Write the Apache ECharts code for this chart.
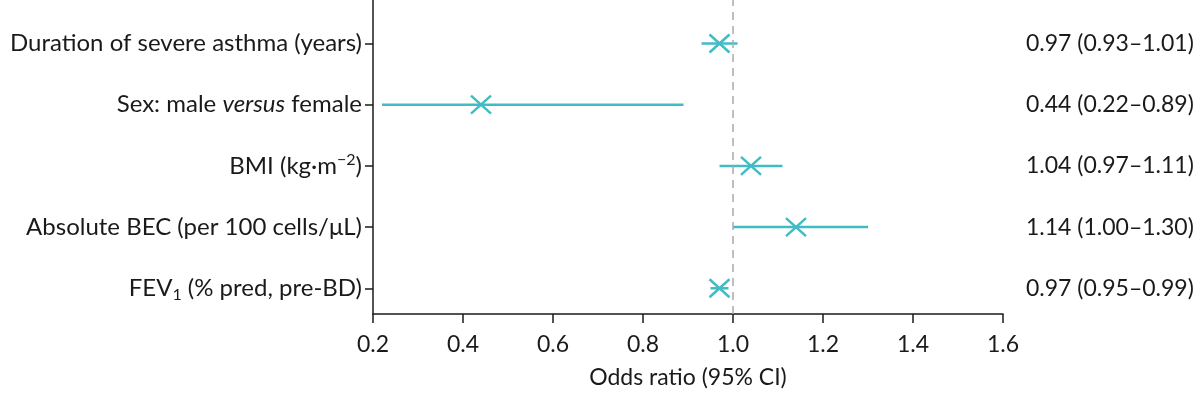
<!DOCTYPE html>
<html style="height: 100%">
<head>
<meta charset="utf-8">
<script src="https://cdn.jsdelivr.net/npm/echarts@6/dist/echarts.min.js"></script>
</head>
<body style="height: 100%; margin: 0">
<div id="container" style="width: 1200px; height: 394px"></div>
<script type="text/javascript">
// rows from bottom (1) to top (5)
var variables = ['FEV1', 'Absolute BEC', 'BMI', 'Sex', 'Duration'];
var rowLabels = [
    '{t|FEV}{sub|1}{t| (% pred, pre-BD)}',
    '{t|Absolute BEC (per 100 cells/\u03bcL)}',
    '{t|BMI (kg\u00b7m}{sup|\u22122}{t|)}',
    '{t|Sex: male }{it|versus}{t| female}',
    '{t|Duration of severe asthma (years)}'
];
var oddsRatio = [0.97, 1.14, 1.04, 0.44, 0.97];
var ciLow = [0.95, 1.00, 0.97, 0.22, 0.93];
var ciHigh = [0.99, 1.30, 1.11, 0.89, 1.01];
var rightLabels = ['0.97 (0.95\u20130.99)', '1.14 (1.00\u20131.30)', '1.04 (0.97\u20131.11)',
    '0.44 (0.22\u20130.89)', '0.97 (0.93\u20131.01)'];

var font = 'Lato';
var teal = '#40bcc4';
var ink = '#1a1a1a';

var rows = [];
for (var i = 0; i < variables.length; i++) {
    rows.push([i + 1, oddsRatio[i], ciLow[i], ciHigh[i]]);
}

var dom = document.getElementById("container");
var myChart = echarts.init(dom);

var option = {
    animation: false,
    grid: { left: 373, right: 197, top: 0, bottom: 76, containLabel: false },
    xAxis: {
        type: 'value',
        min: 0.2,
        max: 1.6,
        interval: 0.2,
        splitLine: { show: false },
        axisLine: { lineStyle: { color: ink, width: 1.5 } },
        axisTick: { length: 9, lineStyle: { color: ink, width: 1.5 } },
        axisLabel: {
            margin: 19,
            fontFamily: font,
            fontSize: 23,
            color: ink,
            formatter: function (v) { return v.toFixed(1); }
        },
        name: 'Odds ratio (95% CI)',
        nameLocation: 'middle',
        nameGap: 52,
        nameTextStyle: { fontFamily: font, fontSize: 23, color: ink }
    },
    yAxis: [{
        type: 'value',
        min: 0.58,
        max: 5.71,
        splitLine: { show: false },
        axisLine: { show: true, lineStyle: { color: ink, width: 1.5 } },
        axisTick: { show: true, length: 8, customValues: [1, 2, 3, 4, 5],
            lineStyle: { color: ink, width: 1.5 } },
        axisLabel: {
            margin: 11,
            customValues: [1, 2, 3, 4, 5],
            formatter: function (v) { return rowLabels[Math.round(v) - 1]; },
            rich: {
                t: { fontFamily: font, fontSize: 24, color: ink },
                it: { fontFamily: font, fontSize: 24, color: ink, fontStyle: 'italic' },
                sub: { fontFamily: font, fontSize: 16, color: ink, padding: [14, 0, 0, 0] },
                sup: { fontFamily: font, fontSize: 16, color: ink, padding: [0, 0, 12, 0] }
            }
        }
    }, {
        type: 'value',
        position: 'right',
        min: 0.58,
        max: 5.71,
        splitLine: { show: false },
        axisLine: { show: false },
        axisTick: { show: false },
        axisLabel: {
            margin: 23,
            customValues: [1, 2, 3, 4, 5],
            fontFamily: font,
            fontSize: 23,
            color: ink,
            formatter: function (v) { return rightLabels[Math.round(v) - 1]; }
        }
    }],
    series: [{
        type: 'custom',
        data: rows,
        encode: { x: [1, 2, 3], y: 0 },
        renderItem: function (params, api) {
            var y = api.value(0);
            var mid = api.coord([api.value(1), y]);
            var lo = api.coord([api.value(2), y]);
            var hi = api.coord([api.value(3), y]);
            var s = 10;
            var style = { stroke: teal, lineWidth: 2.5 };
            return {
                type: 'group',
                children: [
                    { type: 'line', shape: { x1: lo[0], y1: lo[1], x2: hi[0], y2: hi[1] }, style: style },
                    { type: 'line', shape: { x1: mid[0] - s, y1: mid[1] - s * 0.9, x2: mid[0] + s, y2: mid[1] + s * 0.9 }, style: style },
                    { type: 'line', shape: { x1: mid[0] - s, y1: mid[1] + s * 0.9, x2: mid[0] + s, y2: mid[1] - s * 0.9 }, style: style }
                ]
            };
        },
        markLine: {
            silent: true,
            symbol: 'none',
            label: { show: false },
            lineStyle: { color: '#aaaaaa', type: [8, 6], width: 1.5 },
            data: [{ xAxis: 1.0 }]
        },
        z: 3
    }]
};

myChart.setOption(option);
</script>
</body>
</html>
